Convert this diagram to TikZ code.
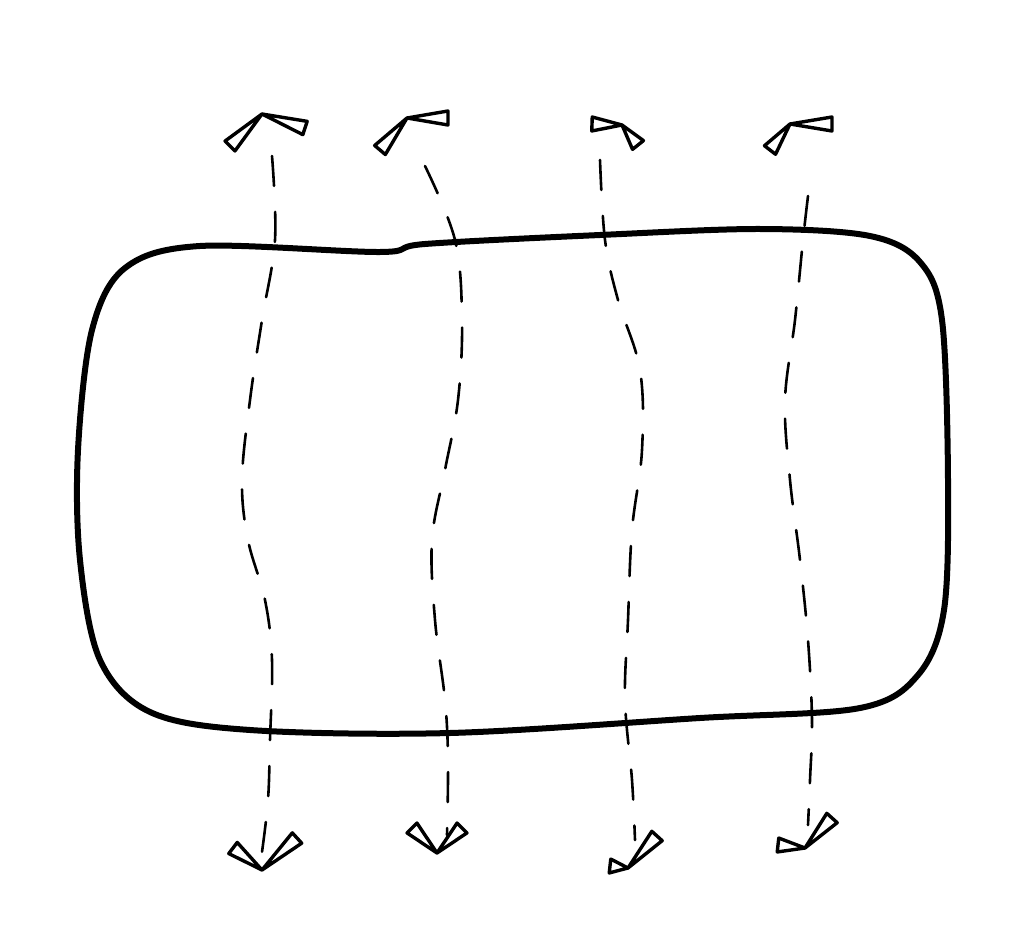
\documentclass[tikz,border=0pt]{standalone}
\usetikzlibrary{calc}
\tikzset{
  outline/.style={line width=6pt, line join=round},
  flow/.style={line width=2.6pt, dash pattern=on 30pt off 26pt, line cap=round},
  wingpath/.style={line width=3.4pt, line join=round, line cap=round}
}
\newcommand{\wingdraw}[2]{%
  \draw[wingpath] (#1) -- ($(#2)!7pt!90:(#1)$) -- ($(#2)!7pt!-90:(#1)$) -- cycle;}
\begin{document}
\begin{tikzpicture}[x=1pt,y=-1pt]
\useasboundingbox (0,0) rectangle (1017,952);
% outline
\draw[outline] plot[smooth cycle, tension=0.55] coordinates {
 (200,246) (380,252) (425,244) (600,235) (760,229) (870,236) (920,262)
 (942,320) (948,480) (944,610) (918,675) (860,708) (700,718) (450,733)
 (250,730) (150,712) (100,660) (80,560) (78,450) (92,330) (125,268)};
% dashed flow lines
\draw[flow] plot[smooth, tension=0.6] coordinates {
 (272,156) (275,240) (262,320) (250,400) (242,480) (248,540) (265,600)
 (272,660) (270,740) (268,800) (262,852)};
\draw[flow] plot[smooth, tension=0.6] coordinates {
 (425,166) (455,240) (462,320) (458,400) (445,470) (432,540) (435,620)
 (445,700) (448,760) (447,835)};
\draw[flow] plot[smooth, tension=0.6] coordinates {
 (600,160) (605,240) (618,300) (640,370) (642,450) (632,530) (628,620)
 (625,700) (632,780) (635,840)};
\draw[flow] plot[smooth, tension=0.6] coordinates {
 (808,196) (803,240) (795,320) (785,400) (790,480) (800,560) (808,640)
 (812,720) (810,780) (808,825)};
% arrow heads (top)
\coordinate (a1) at (262,114);
\coordinate (a2) at (407,118);
\coordinate (a3) at (622,125);
\coordinate (a4) at (790,124);
\wingdraw{a1}{230,146}\wingdraw{a1}{305,128}
\wingdraw{a2}{380,150}\wingdraw{a2}{448,118}
\wingdraw{a3}{592,124}\wingdraw{a3}{638,145}
\wingdraw{a4}{832,124}\wingdraw{a4}{770,150}
% arrow heads (bottom)
\coordinate (b1) at (262,870);
\coordinate (b2) at (437,853);
\coordinate (b3) at (628,868);
\coordinate (b4) at (805,848);
\wingdraw{b1}{233,848}\wingdraw{b1}{297,838}
\wingdraw{b2}{412,828}\wingdraw{b2}{462,828}
\wingdraw{b3}{610,866}\wingdraw{b3}{657,836}
\wingdraw{b4}{778,845}\wingdraw{b4}{832,818}
\end{tikzpicture}
\end{document}
